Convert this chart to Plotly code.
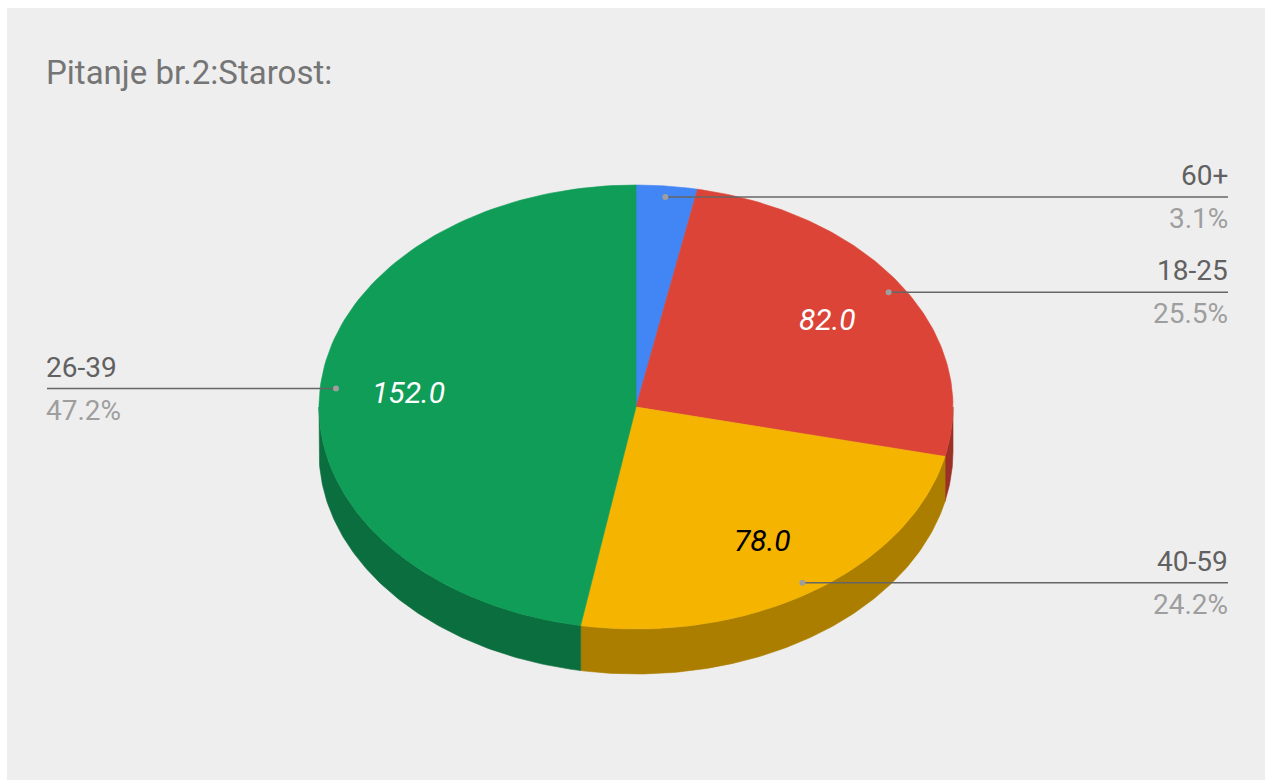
import math
import plotly.graph_objects as go

# Survey answers: age groups and respondent counts
labels = ["60+", "18-25", "40-59", "26-39"]
values = [10, 82, 78, 152]
top_colors = ["#4285f4", "#db4437", "#f4b400", "#0f9d58"]
side_colors = ["#2f5fad", "#9b3027", "#ab7e00", "#0b6e3e"]
value_text_colors = ["#ffffff", "#ffffff", "#000000", "#ffffff"]
title_text = "Pitanje br.2:Starost:"

W, H = 1265, 781
CX, CY = 636, 407        # centre of the top face
RX, RY = 317, 222        # radii of the tilted ellipse
DEPTH = 45               # thickness of the pie
LABEL_R = 0.72           # radial position of value text
ANCHOR_R = 0.95          # radial position of leader-line anchors
RIGHT_X, LEFT_X = 1228, 47


def pt(theta_deg, r=1.0, dy=0.0):
    t = math.radians(theta_deg)
    return CX + r * RX * math.sin(t), CY - r * RY * math.cos(t) + dy


def arc(a0, a1, n=120, dy=0.0):
    xs, ys = [], []
    for i in range(n + 1):
        x, y = pt(a0 + (a1 - a0) * i / n, dy=dy)
        xs.append(x)
        ys.append(y)
    return xs, ys


total = sum(values)
angles = []
acc = 0.0
for v in values:
    a0 = acc / total * 360
    acc += v
    angles.append((a0, acc / total * 360))

fig = go.Figure()

# visible side walls (front half of the ellipse, 90..270 degrees)
for (a0, a1), col in zip(angles, side_colors):
    s0, s1 = max(a0, 90), min(a1, 270)
    if s1 <= s0:
        continue
    tx, ty = arc(s0, s1)
    bx, by = arc(s1, s0, dy=DEPTH)
    fig.add_trace(go.Scatter(x=tx + bx + [tx[0]], y=ty + by + [ty[0]], mode="lines",
                             fill="toself", fillcolor=col, line=dict(width=0.6, color=col),
                             hoverinfo="skip", showlegend=False))

# top faces
for (a0, a1), col in zip(angles, top_colors):
    ax, ay = arc(a0, a1)
    fig.add_trace(go.Scatter(x=[CX] + ax + [CX], y=[CY] + ay + [CY], mode="lines",
                             fill="toself", fillcolor=col, line=dict(width=0.6, color=col),
                             hoverinfo="skip", showlegend=False))

annotations = []
line_x, line_y, dot_x, dot_y = [], [], [], []
for lab, v, (a0, a1), tcol in zip(labels, values, angles, value_text_colors):
    mid = (a0 + a1) / 2
    pct = v / total * 100
    # value inside slice
    if pct > 5:
        vx, vy = pt(mid, LABEL_R)
        annotations.append(dict(x=vx, y=vy, text=f"{v:.1f}", showarrow=False,
                                font=dict(family="Roboto", size=30, color=tcol, style="italic"),
                                xanchor="center", yanchor="middle"))
    # leader line and outside labels
    ax_, ay_ = pt(mid, ANCHOR_R)
    right = math.sin(math.radians(mid)) >= 0
    end_x = RIGHT_X if right else LEFT_X
    line_x += [ax_, end_x, None]
    line_y += [ay_, ay_, None]
    dot_x.append(ax_)
    dot_y.append(ay_)
    anchor = "right" if right else "left"
    text_x = end_x + (2 if right else -3)
    annotations.append(dict(x=text_x, y=ay_ - 3, text=lab, showarrow=False,
                            font=dict(family="Roboto", size=28, color="#616161"),
                            xanchor=anchor, yanchor="bottom", align=anchor))
    annotations.append(dict(x=text_x, y=ay_ + 3, text=f"{pct:.1f}%", showarrow=False,
                            font=dict(family="Roboto", size=28, color="#9e9e9e"),
                            xanchor=anchor, yanchor="top", align=anchor))

fig.add_trace(go.Scatter(x=line_x, y=line_y, mode="lines",
                         line=dict(color="#666666", width=1.5),
                         hoverinfo="skip", showlegend=False))
fig.add_trace(go.Scatter(x=dot_x, y=dot_y, mode="markers",
                         marker=dict(color="#9e9e9e", size=6),
                         hoverinfo="skip", showlegend=False))

annotations.append(dict(x=44, y=72, text=title_text, showarrow=False,
                        font=dict(family="Roboto", size=33, color="#757575"),
                        xanchor="left", yanchor="middle"))

fig.update_layout(
    width=W, height=H,
    margin=dict(l=0, r=0, t=0, b=0),
    paper_bgcolor="#ffffff",
    plot_bgcolor="rgba(0,0,0,0)",
    xaxis=dict(range=[0, W], visible=False, fixedrange=True),
    yaxis=dict(range=[H, 0], visible=False, fixedrange=True),
    shapes=[dict(type="rect", xref="x", yref="y", x0=7, y0=8, x1=W, y1=780,
                 fillcolor="#eeeeee", line=dict(width=0), layer="below")],
    annotations=annotations,
)

fig.write_html("out.html")
